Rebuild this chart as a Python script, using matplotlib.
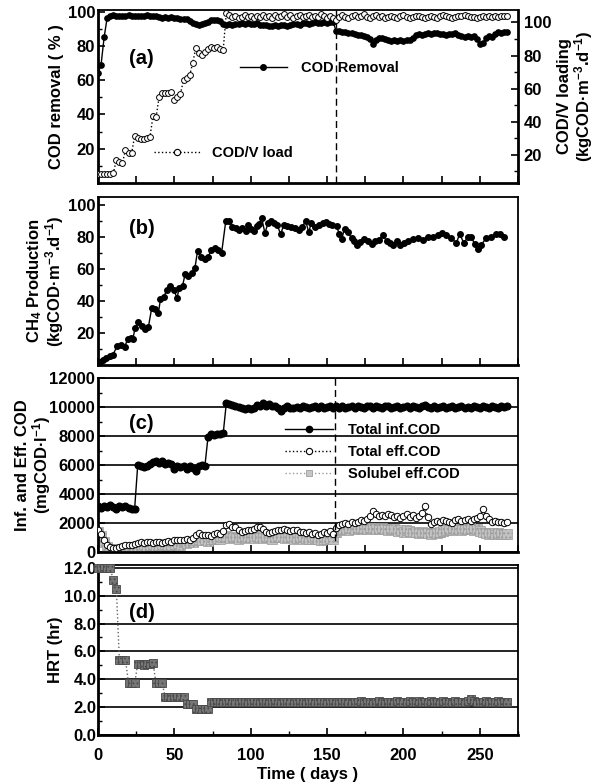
import numpy as np
import matplotlib
matplotlib.use('Agg')
import matplotlib.pyplot as plt
from matplotlib.lines import Line2D
from matplotlib.ticker import MultipleLocator, FixedLocator, NullFormatter, FormatStrFormatter

plt.rcParams['font.family'] = ['Liberation Sans', 'DejaVu Sans']
plt.rcParams['font.weight'] = 'bold'
plt.rcParams['axes.labelweight'] = 'bold'
plt.rcParams['mathtext.fontset'] = 'custom'
plt.rcParams['mathtext.rm'] = 'Liberation Sans:bold'
plt.rcParams['mathtext.bf'] = 'Liberation Sans:bold'
plt.rcParams['mathtext.it'] = 'Liberation Sans:bold'
plt.rcParams['mathtext.default'] = 'rm'

# ---------------- data ----------------
days = np.arange(0, 270, 2)   # sampling days (0..268)

cod_removal = [
    64, 69, 85, 96.5, 97.5, 97.8, 97.5, 97.7, 97.4, 97.6,
    97.8, 97.5, 97.6, 97.4, 97.7, 97.5, 97.8, 97.6, 97.3, 97.5,
    97.2, 96.6, 97.0, 96.5, 96.8, 96.2, 96.5, 96.0, 95.8, 95.5,
    94.5, 93.5, 92.8, 92.4, 92.6, 93.2, 94.2, 95.0, 95.2, 95.0,
    94.5, 93.0, 92.5, 92.8, 92.3, 93.0, 92.6, 93.2, 92.8, 93.4,
    93.0, 92.6, 93.2, 92.4, 92.0, 92.5, 91.5, 91.8, 92.2, 91.6,
    92.0, 92.4, 91.8, 92.2, 92.6, 93.0, 92.5, 93.2, 93.6, 93.0,
    93.4, 93.8, 93.2, 93.6, 94.0, 93.5, 94.2, 93.8, 88.5, 88.8,
    88.4, 88.0, 87.8, 87.4, 87.0, 86.6, 86.2, 85.8, 85.4, 84.0,
    81.0, 83.5, 84.4, 84.6, 84.2, 83.4, 83.0, 83.4, 82.8, 83.2,
    83.0, 83.4, 83.2, 84.5, 86.4, 87.0, 86.6, 87.2, 87.6, 87.2,
    87.8, 87.4, 86.8, 87.0, 86.6, 87.2, 86.8, 87.4, 86.6, 86.0,
    85.4, 85.8, 85.0, 85.6, 84.0, 81.0, 81.6, 84.4, 85.8, 85.2,
    87.0, 88.2, 87.8, 88.4, 88.0]

cod_load = [
    8.5, 8.5, 8.6, 8.4, 8.6, 8.8, 16.8, 15.4, 15.2, 22.8,
    21.2, 21.0, 31.3, 30.2, 29.8, 29.6, 30.0, 30.6, 43.4, 42.6,
    54.8, 57.2, 57.6, 57.4, 57.8, 53.0, 55.0, 57.0, 65.0, 66.5,
    68.0, 75.4, 84.4, 81.4, 80.6, 82.0, 83.8, 85.0, 84.6, 85.2,
    84.2, 83.6, 105.6, 104.4, 103.2, 103.8, 102.6, 103.4, 104.2, 103.0,
    103.6, 102.8, 104.0, 103.4, 104.6, 103.0, 103.8, 102.6, 104.4, 103.2,
    103.8, 105.0, 103.4, 104.2, 102.8, 103.6, 104.4, 103.0, 103.8, 104.6,
    103.2, 104.0, 103.4, 104.8, 103.6, 102.8, 103.8, 102.4, 101.6, 103.0,
    104.2, 103.4, 102.8, 103.6, 104.6, 103.2, 103.8, 104.8, 103.4, 102.6,
    103.8, 104.4, 103.0, 103.6, 102.8, 103.4, 104.0, 103.2, 102.6, 103.6,
    104.2, 103.0, 102.4, 103.2, 103.8, 104.0, 103.4, 102.8, 103.2, 103.8,
    103.4, 102.8, 103.6, 104.2, 103.8, 103.2, 102.8, 103.4, 103.6, 104.0,
    104.4, 103.6, 103.0, 103.4, 102.8, 103.2, 103.6, 103.2, 103.8, 103.4,
    103.6, 103.2, 103.8, 103.6, 104.0]

ch4_days = [
    1, 3, 5.4, 7.6, 9.8, 12.6, 15.2, 17.4, 19.6, 21.7,
    22.8, 24.3, 26.5, 28.7, 30.9, 33, 35.2, 37.4, 39.6, 40.9,
    43, 45.2, 47.4, 49.6, 51.7, 53.3, 55.4, 57, 59.1, 61.3,
    63.5, 65.2, 67.4, 70, 72.2, 74.3, 76.5, 78.7, 80.9, 83.7,
    85.9, 88, 90.2, 92.4, 94.6, 96.7, 98.3, 100.4, 102.2, 103.9,
    105.4, 107.2, 109.3, 111.3, 113.5, 115.2, 117.4, 119.6, 121.7, 123.9,
    126.1, 128.7, 131.5, 133.7, 135.9, 138, 139.6, 142.2, 144.4, 147,
    149.2, 151.4, 153.5, 156.4, 157.9, 159.6, 161.4, 163.5, 166.1, 167.9,
    169.4, 171.6, 174.4, 177, 179.2, 181.4, 184, 186.8, 189, 191.1,
    193.3, 195.5, 197.7, 200.5, 203.1, 206.4, 209.6, 212.9, 216.1, 219.4,
    222.7, 225.3, 228.1, 231.4, 234.6, 236.8, 239.6, 242.2, 244.4, 246.6,
    248.7, 250.9, 254.2, 257.4, 260.7, 263.5, 265.7]
ch4_prod = [
    1.9, 2.9, 4.4, 5.6, 6.5, 11.9, 12.3, 11.3, 16.5, 16.9,
    16.1, 23.2, 26.6, 24.5, 22.4, 23.8, 35.8, 34.9, 32.8, 41.2,
    42.7, 46.9, 49.6, 46.9, 42.0, 48.3, 49.6, 56.7, 55.9, 57.3,
    60.9, 71.3, 67.2, 66.3, 67.8, 72.0, 73.4, 72.0, 69.9, 90.2,
    89.7, 86.2, 85.6, 84.3, 85.6, 83.9, 87.2, 85.1, 83.9, 86.6,
    88.1, 91.8, 82.4, 88.7, 90.2, 88.7, 87.2, 81.8, 87.7, 86.6,
    86.0, 85.6, 84.5, 86.0, 90.2, 83.0, 88.7, 86.0, 87.2, 88.7,
    89.3, 88.1, 87.7, 86.6, 81.8, 78.9, 85.1, 83.0, 79.3, 77.6,
    74.7, 76.8, 78.9, 77.6, 75.5, 77.2, 78.2, 81.0, 77.2, 76.2,
    75.1, 77.2, 74.7, 76.2, 77.2, 78.9, 79.3, 78.2, 80.3, 80.3,
    81.4, 82.4, 81.0, 79.3, 76.2, 81.8, 76.2, 80.3, 80.3, 75.5,
    72.6, 75.1, 79.3, 80.3, 81.8, 81.8, 79.7]

inf_cod = [
    3150, 3050, 3200, 3100, 3250, 3100, 3000, 3200, 3100, 3150,
    3050, 2950, 3000, 5980, 5900, 5850, 5950, 6100, 6200, 6250,
    6150, 6250, 6100, 6150, 6050, 5700, 5900, 5850, 5950, 5750,
    5900, 5800, 5600, 5950, 6000, 5950, 7900, 8150, 8100, 8150,
    8150, 8200, 10250, 10200, 10150, 10100, 10000, 9900, 9850, 9900,
    9850, 9950, 10150, 10050, 10300, 10100, 10200, 10050, 10100, 9950,
    9700, 9950, 10050, 9900, 9950, 10000, 9950, 10050, 10000, 9900,
    10000, 10100, 9950, 10050, 9900, 10000, 10050, 9950, 10100, 9950,
    10050, 9950, 10000, 10100, 9900, 10050, 10000, 9950, 10100, 10050,
    9950, 10050, 10000, 9900, 10050, 10100, 9950, 10000, 10050, 9950,
    10000, 10100, 9950, 10050, 10000, 9900, 10050, 10150, 10000, 9950,
    10050, 9950, 10000, 10050, 9900, 10000, 10050, 9950, 10000, 10050,
    9950, 10000, 9900, 10050, 10000, 9950, 10050, 10000, 9950, 10050,
    10000, 9950, 10050, 10000, 10100]

eff_cod = [
    1500, 1250, 800, 450, 350, 300, 300, 350, 400, 450,
    450, 500, 550, 650, 700, 650, 700, 700, 650, 700,
    700, 650, 700, 750, 700, 800, 850, 800, 850, 900,
    850, 1000, 1200, 1300, 1150, 1200, 1150, 1100, 1250, 1300,
    1250, 1450, 1850, 1950, 1750, 1700, 1500, 1400, 1450, 1500,
    1500, 1600, 1700, 1750, 1600, 1400, 1300, 1350, 1450, 1500,
    1550, 1600, 1500, 1450, 1550, 1500, 1400, 1350, 1300, 1350,
    1250, 1300, 1200, 1250, 1350, 1300, 1450, 1250, 1650, 1850,
    1900, 2000, 1950, 2050, 2000, 2100, 2200, 2150, 2300, 2450,
    2800, 2600, 2500, 2550, 2450, 2600, 2550, 2400, 2500, 2350,
    2450, 2600, 2400, 2550, 2350, 2500, 2700, 3150, 2400, 1900,
    2050, 2150, 2100, 2200, 2150, 2100, 2000, 2200, 2250, 2150,
    2200, 2250, 2150, 2300, 2350, 2500, 2950, 2500, 2300, 2100,
    2150, 2050, 2100, 2000, 2050]

sol_cod = [
    1400, 1150, 700, 350, 200, 150, 200, 150, 250, 200,
    300, 250, 350, 400, 350, 450, 400, 500, 450, 400,
    500, 450, 550, 500, 450, 550, 600, 500, 650, 600,
    700, 650, 800, 900, 800, 850, 750, 900, 850, 950,
    900, 1000, 1100, 950, 1050, 1000, 900, 1050, 950, 1000,
    1050, 950, 1100, 1000, 950, 1050, 1000, 900, 1000, 1050,
    1000, 950, 1050, 1000, 900, 950, 1000, 850, 950, 900,
    850, 950, 900, 800, 900, 850, 950, 900, 1350, 1500,
    1550, 1600, 1500, 1650, 1600, 1700, 1550, 1650, 1600, 1700,
    1650, 1600, 1550, 1650, 1600, 1500, 1550, 1600, 1450, 1500,
    1400, 1500, 1450, 1350, 1400, 1300, 1400, 1350, 1300, 1250,
    1350, 1300, 1400, 1450, 1500, 1550, 1500, 1600, 1550, 1500,
    1600, 1550, 1650, 1500, 1600, 1450, 1350, 1300, 1250, 1300,
    1200, 1300, 1250, 1200, 1250]

hrt = [
    12.0, 12.0, 12.0, 12.0, 12.0, 11.1, 10.5, 5.4, 5.4, 5.4,
    3.7, 3.7, 3.7, 5.1, 5.1, 5.0, 5.1, 5.1, 5.2, 3.7,
    3.7, 3.7, 2.75, 2.75, 2.75, 2.75, 2.75, 2.75, 2.75, 2.25,
    2.25, 2.25, 1.85, 1.85, 1.85, 1.85, 1.85, 2.38, 2.38, 2.40,
    2.38, 2.40, 2.36, 2.38, 2.40, 2.38, 2.36, 2.38, 2.40, 2.38,
    2.36, 2.38, 2.40, 2.38, 2.36, 2.38, 2.40, 2.38, 2.38, 2.36,
    2.38, 2.40, 2.38, 2.36, 2.38, 2.40, 2.38, 2.36, 2.38, 2.40,
    2.38, 2.36, 2.38, 2.40, 2.38, 2.38, 2.36, 2.38, 2.40, 2.38,
    2.36, 2.38, 2.40, 2.38, 2.36, 2.38, 2.42, 2.40, 2.38, 2.36,
    2.38, 2.40, 2.42, 2.40, 2.38, 2.36, 2.38, 2.40, 2.42, 2.40,
    2.38, 2.40, 2.42, 2.38, 2.40, 2.42, 2.40, 2.38, 2.40, 2.42,
    2.40, 2.38, 2.40, 2.42, 2.40, 2.38, 2.40, 2.42, 2.40, 2.38,
    2.40, 2.42, 2.55, 2.42, 2.40, 2.38, 2.40, 2.42, 2.40, 2.38,
    2.40, 2.42, 2.40, 2.38, 2.40]

shift_day_a = 156
shift_day_c = 155

# ---------------- figure ----------------
fig = plt.figure(figsize=(5.98, 7.82), dpi=100)
L, W = 98 / 598, 420 / 598


def rect(top, bot):
    return [L, (782 - bot) / 782, W, (bot - top) / 782]


ax_a = fig.add_axes(rect(10, 183))
ax_b = fig.add_axes(rect(197, 365))
ax_c = fig.add_axes(rect(378, 552))
ax_d = fig.add_axes(rect(565, 735))


def style(ax):
    for s in ['top', 'right']:
        ax.spines[s].set_linewidth(1.3)
    for s in ['left', 'bottom']:
        ax.spines[s].set_linewidth(2.0)
    ax.tick_params(which='both', direction='in', top=False, right=False,
                   labelsize=12, pad=2)
    ax.tick_params(which='major', length=5, width=1.2)
    ax.tick_params(which='minor', length=3, width=1.0)
    ax.set_xlim(0, 275)
    ax.xaxis.set_major_locator(MultipleLocator(25))
    ax.xaxis.set_major_formatter(NullFormatter())


dash = (0, (5, 3))

# ---- (a) ----
style(ax_a)
ax_a.plot(days, cod_removal, '-', color='k', lw=1, marker='o', ms=3.8,
          mfc='k', mec='k', zorder=3)
ax_a.set_ylim(0, 101)
ax_a.yaxis.set_major_locator(FixedLocator([20, 40, 60, 80, 100]))
ax_a.yaxis.set_minor_locator(MultipleLocator(10))
ax_a.axvline(shift_day_a, color='k', ls=dash, lw=1)
ax_a.set_ylabel('COD removal ( % )', fontsize=12)
ax_a.yaxis.set_label_coords(-0.08, 0.5)
ax_a.text(0.074, 0.72, '(a)', transform=ax_a.transAxes, fontsize=14.5,
          fontweight='bold', va='center', ha='left')

ax_a2 = ax_a.twinx()
ax_a2.plot(days, cod_load, ls=':', color='k', lw=1, marker='o', ms=4.2,
           mfc='white', mec='k', mew=0.7, zorder=3)
ax_a2.set_ylim(3, 107.5)
ax_a2.set_xlim(0, 275)
ax_a2.yaxis.set_major_locator(FixedLocator([20, 40, 60, 80, 100]))
ax_a2.yaxis.set_minor_locator(MultipleLocator(10))
ax_a2.tick_params(which='both', direction='in', labelsize=12, pad=4)
ax_a2.tick_params(which='major', length=5, width=1.2)
ax_a2.tick_params(which='minor', length=3, width=1.0)
for s in ax_a2.spines.values():
    s.set_visible(False)
ax_a.spines['right'].set_linewidth(2.0)
ax_a2.set_ylabel('COD/V loading\n(kgCOD·m$^{-3}$.d$^{-1}$)', fontsize=12,
                 linespacing=1.0)
ax_a2.yaxis.set_label_coords(1.093, 0.5)

h_rem = Line2D([], [], color='k', lw=1, marker='o', ms=4, mfc='k', mec='k')
h_load = Line2D([], [], color='k', lw=1, ls=':', marker='o', ms=4.5,
                mfc='white', mec='k', mew=0.8)
leg1 = ax_a2.legend([h_rem], ['COD Removal'], loc='center left',
                    bbox_to_anchor=((240 - 98) / 420, (183 - 68) / 173),
                    frameon=False, fontsize=10.5, handlelength=3.2,
                    handletextpad=1.0, borderpad=0, borderaxespad=0,
                    numpoints=1)
ax_a2.add_artist(leg1)
ax_a2.legend([h_load], ['COD/V load'], loc='center left',
             bbox_to_anchor=((154 - 98) / 420, (183 - 153) / 173),
             frameon=False, fontsize=10.5, handlelength=3.2,
             handletextpad=0.8, borderpad=0, borderaxespad=0, numpoints=1)

# ---- (b) ----
style(ax_b)
ax_b.plot(ch4_days, ch4_prod, '-', color='k', lw=1, marker='o', ms=4.0,
          mfc='k', mec='k')
ax_b.set_ylim(0, 105)
ax_b.yaxis.set_major_locator(FixedLocator([20, 40, 60, 80, 100]))
ax_b.yaxis.set_minor_locator(MultipleLocator(10))
ax_b.set_ylabel('CH$_4$ Production\n(kgCOD·m$^{-3}$.d$^{-1}$)', fontsize=12,
                linespacing=1.0)
ax_b.yaxis.set_label_coords(-0.075, 0.5)
ax_b.text(0.074, 0.815, '(b)', transform=ax_b.transAxes, fontsize=14.5,
          fontweight='bold', va='center', ha='left')

# ---- (c) ----
style(ax_c)
ax_c.set_ylim(0, 12000)
ax_c.yaxis.set_major_locator(MultipleLocator(2000))
ax_c.yaxis.set_minor_locator(MultipleLocator(1000))
ax_c.grid(axis='y', which='major', color='k', lw=1.2)
ax_c.plot(days, sol_cod, ls=':', color='#9a9a9a', lw=1, zorder=2)
with plt.rc_context({'hatch.color': '#6a6a6a', 'hatch.linewidth': 1.0}):
    ax_c.scatter(days, sol_cod, marker='s', s=48, facecolors='#c2c2c2',
                 edgecolors='#9c9c9c', linewidths=0.5, hatch='....',
                 zorder=2.5)
ax_c.plot(days, eff_cod, ls=':', color='k', lw=1, marker='o', ms=4.6,
          mfc='white', mec='k', mew=0.7, zorder=3)
ax_c.plot(days, inf_cod, '-', color='k', lw=1, marker='o', ms=4.8,
          mfc='k', mec='k', zorder=3)
ax_c.axvline(shift_day_c, color='k', ls=dash, lw=1, zorder=4)
ax_c.set_ylabel('Inf. and Eff. COD\n(mgCOD·l$^{-1}$)', fontsize=12,
                linespacing=1.0)
ax_c.yaxis.set_label_coords(-0.108, 0.5)
ax_c.text(0.074, 0.741, '(c)', transform=ax_c.transAxes, fontsize=14.5,
          fontweight='bold', va='center', ha='left')

h_inf = Line2D([], [], color='k', lw=1, marker='o', ms=4.5, mfc='k', mec='k')
h_eff = Line2D([], [], color='k', lw=1, ls=':', marker='o', ms=4.5,
               mfc='white', mec='k', mew=0.8)
h_sol = Line2D([], [], color='#9a9a9a', lw=1, ls=':', marker='s', ms=5,
               mfc='#c6c6c6', mec='#9c9c9c', mew=0.6)
ax_c.legend([h_inf, h_eff, h_sol],
            ['Total inf.COD', 'Total eff.COD', 'Solubel eff.COD'],
            loc='center left',
            bbox_to_anchor=((285 - 98) / 420, (552 - 452) / 174),
            frameon=False, fontsize=10.5, handlelength=3.3,
            handletextpad=1.0, labelspacing=0.55, borderpad=0,
            borderaxespad=0, numpoints=1)

# ---- (d) ----
style(ax_d)
ax_d.set_ylim(0, 12.2)
ax_d.yaxis.set_major_locator(MultipleLocator(2))
ax_d.yaxis.set_minor_locator(MultipleLocator(1))
ax_d.yaxis.set_major_formatter(FormatStrFormatter('%.1f'))
ax_d.grid(axis='y', which='major', color='k', lw=1.2)
ax_d.xaxis.set_major_locator(MultipleLocator(50))
ax_d.xaxis.set_minor_locator(MultipleLocator(25))
ax_d.xaxis.set_major_formatter(FormatStrFormatter('%d'))
ax_d.tick_params(axis='x', which='both', pad=9)
ax_d.tick_params(axis='y', which='both', pad=1)
ax_d.plot(days, hrt, ls=':', color='#666666', lw=1, zorder=2, clip_on=False)
with plt.rc_context({'hatch.color': '#d8d8d8', 'hatch.linewidth': 0.8}):
    ax_d.scatter(days, hrt, marker='s', s=33, facecolors='#767676',
                 edgecolors='#4a4a4a', linewidths=0.6, hatch='....',
                 zorder=3, clip_on=False)
ax_d.set_ylabel('HRT (hr)', fontsize=12)
ax_d.yaxis.set_label_coords(-0.083, 0.5)
ax_d.set_xlabel('Time ( days )', fontsize=12, labelpad=3)
ax_d.text(0.074, 0.718, '(d)', transform=ax_d.transAxes, fontsize=14.5,
          fontweight='bold', va='center', ha='left')

fig.savefig('out.png', dpi=100)
